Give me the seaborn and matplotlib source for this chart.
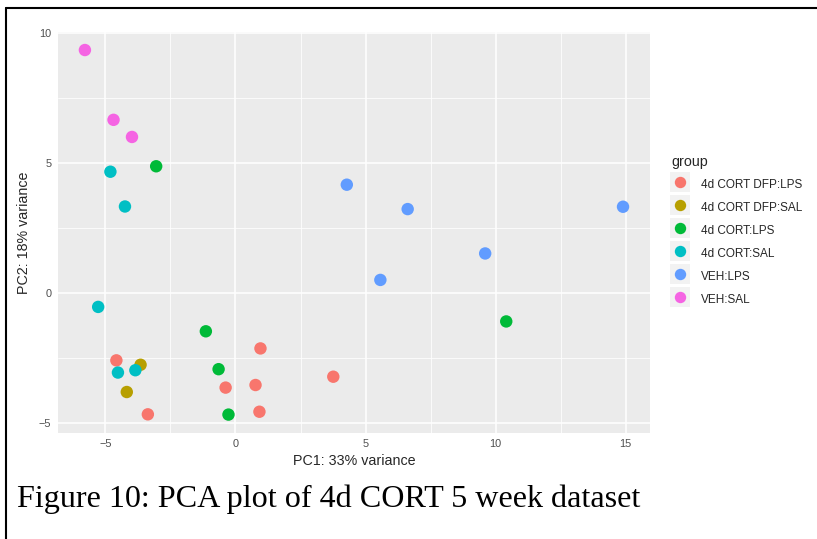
"""PCA scatter of the 4d CORT 5 week dataset, ggplot-like look with seaborn."""

import matplotlib

matplotlib.use("Agg")

import matplotlib.pyplot as plt
import numpy as np
import pandas as pd
import seaborn as sns
from matplotlib.legend_handler import HandlerTuple
from matplotlib.lines import Line2D
from matplotlib.ticker import MultipleLocator

# --- data ------------------------------------------------------------------
groups = [
    "4d CORT DFP:LPS",
    "4d CORT DFP:SAL",
    "4d CORT:LPS",
    "4d CORT:SAL",
    "VEH:LPS",
    "VEH:SAL",
]
colors = ["#F8766D", "#B79F00", "#00BA38", "#00BFC4", "#619CFF", "#F564E3"]

pc1_dfp_lps = [0.96, -4.58, 3.76, -0.38, 0.77, -3.37, 0.92]
pc2_dfp_lps = [-2.14, -2.60, -3.23, -3.65, -3.55, -4.68, -4.58]

pc1_dfp_sal = [-3.65, -4.18]
pc2_dfp_sal = [-2.77, -3.82]

pc1_cort_lps = [-3.05, -1.14, -0.65, -0.27, 10.41]
pc2_cort_lps = [4.88, -1.48, -2.94, -4.69, -1.10]

pc1_cort_sal = [-4.81, -4.25, -5.28, -4.52, -3.85]
pc2_cort_sal = [4.67, 3.33, -0.54, -3.07, -2.98]

pc1_veh_lps = [4.28, 6.62, 5.57, 9.60, 14.90]
pc2_veh_lps = [4.17, 3.23, 0.50, 1.52, 3.32]

pc1_veh_sal = [-5.79, -4.69, -3.98]
pc2_veh_sal = [9.36, 6.67, 6.01]

pc1_all = [pc1_dfp_lps, pc1_dfp_sal, pc1_cort_lps, pc1_cort_sal, pc1_veh_lps, pc1_veh_sal]
pc2_all = [pc2_dfp_lps, pc2_dfp_sal, pc2_cort_lps, pc2_cort_sal, pc2_veh_lps, pc2_veh_sal]

df = pd.DataFrame(
    {
        "PC1": np.concatenate(pc1_all),
        "PC2": np.concatenate(pc2_all),
        "group": np.repeat(groups, [len(v) for v in pc1_all]),
    }
)

# --- style ------------------------------------------------------------------
sns.set_style("darkgrid", {"axes.facecolor": "#EBEBEB", "grid.color": "white"})
plt.rcParams["font.family"] = ["Liberation Sans", "DejaVu Sans"]

fig = plt.figure(figsize=(8.17, 5.39), dpi=100)
ax = fig.add_axes([0.071, 0.197, 0.7245, 0.744])

palette = dict(zip(groups, colors))
sns.scatterplot(
    data=df,
    x="PC1",
    y="PC2",
    hue="group",
    hue_order=groups,
    palette=palette,
    s=80,
    linewidth=0,
    ax=ax,
    legend=False,
    zorder=3,
)

# ggplot-style 5% expansion of the data range
xmin, xmax = df["PC1"].min(), df["PC1"].max()
ymin, ymax = df["PC2"].min(), df["PC2"].max()
ax.set_xlim(xmin - 0.05 * (xmax - xmin), xmax + 0.05 * (xmax - xmin))
ax.set_ylim(ymin - 0.05 * (ymax - ymin), ymax + 0.05 * (ymax - ymin))

ax.xaxis.set_major_locator(MultipleLocator(5))
ax.yaxis.set_major_locator(MultipleLocator(5))
ax.xaxis.set_minor_locator(MultipleLocator(2.5))
ax.yaxis.set_minor_locator(MultipleLocator(2.5))
ax.grid(which="major", color="white", linewidth=1.1)
ax.grid(which="minor", color="white", linewidth=0.55)
ax.tick_params(which="major", length=2.8, width=0.8, color="#333333",
               labelsize=7.8, labelcolor="#4D4D4D", pad=2)
ax.tick_params(which="minor", length=0)
for sp in ax.spines.values():
    sp.set_visible(False)

ax.set_xlabel("PC1: 33% variance", fontsize=10.3, labelpad=3)
ax.set_ylabel("PC2: 18% variance", fontsize=10.3, labelpad=6)

# legend: grey key square with a coloured dot on top
handles = [
    (
        Line2D([], [], marker="s", linestyle="", markersize=15.0,
               markerfacecolor="#F2F2F2", markeredgewidth=0),
        Line2D([], [], marker="o", linestyle="", markersize=8.2,
               markerfacecolor=c, markeredgewidth=0),
    )
    for c in colors
]
fig.legend(
    handles,
    groups,
    handler_map={tuple: HandlerTuple(ndivide=1)},
    title="group",
    loc="upper left",
    bbox_to_anchor=(671 / 817, 1 - 155 / 539),
    frameon=False,
    fontsize=8.5,
    title_fontsize=10.3,
    alignment="left",
    handlelength=1.6,
    handleheight=1.7,
    labelspacing=0.6,
    handletextpad=0.95,
    borderpad=0,
    borderaxespad=0,
)

# caption and outer frame
fig.text(17 / 817, 1 - 507 / 539, "Figure 10: PCA plot of 4d CORT 5 week dataset",
         family=["Liberation Serif", "DejaVu Serif"], fontsize=23.1,
         va="baseline", ha="left", color="black")
fig.add_artist(Line2D([6 / 817, 6 / 817], [0, 1 - 8 / 539], color="black",
                      linewidth=1.5, transform=fig.transFigure))
fig.add_artist(Line2D([6 / 817, 1], [1 - 8 / 539, 1 - 8 / 539], color="black",
                      linewidth=1.5, transform=fig.transFigure))

fig.savefig("out.png", dpi=100)
